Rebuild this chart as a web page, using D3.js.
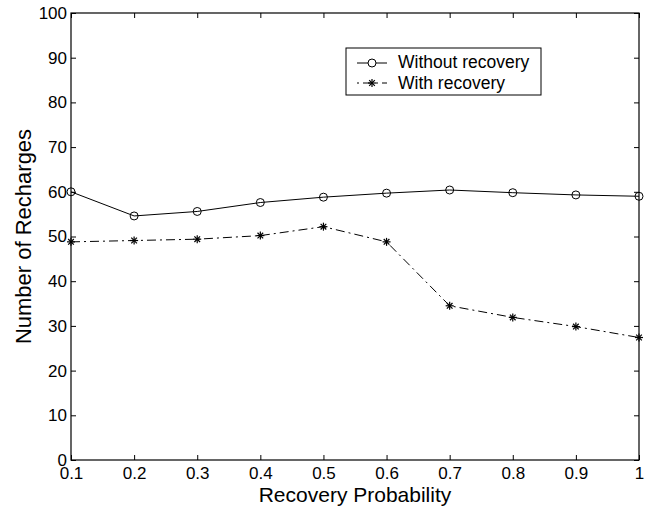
<!DOCTYPE html>
<html>
<head>
  <meta charset="utf-8">
  <title>Number of Recharges</title>
  <script src="https://d3js.org/d3.v7.min.js"></script>
  <style>
    html, body { margin: 0; background: #fff; }
    svg text { font-family: 'Liberation Sans', Arial, sans-serif; fill: #000; }
  </style>
</head>
<body>
  <svg id="chart" width="651" height="508"></svg>
  <script>
  // data
  const probs = [0.1, 0.2, 0.3, 0.4, 0.5, 0.6, 0.7, 0.8, 0.9, 1.0];
  const withoutRecovery = [60.0, 54.6, 55.6, 57.6, 58.8, 59.7, 60.4, 59.8, 59.3, 59.0];
  const withRecovery = [48.8, 49.1, 49.4, 50.2, 52.2, 48.8, 34.5, 31.9, 29.85, 27.4];
  const xTicks = [0.1, 0.2, 0.3, 0.4, 0.5, 0.6, 0.7, 0.8, 0.9, 1];
  const yTicks = [0, 10, 20, 30, 40, 50, 60, 70, 80, 90, 100];

  const svg = d3.select("#chart");
  const plotLeft = 71, plotRight = 639, plotTop = 13, plotBottom = 460;

  const x = d3.scaleLinear().domain([0.1, 1]).range([plotLeft, plotRight]);
  const y = d3.scaleLinear().domain([0, 100]).range([plotBottom, plotTop]);
  const tickLen = 5;

  // bottom axis (ticks inward)
  const xAxis = svg.append("g")
    .attr("transform", `translate(0,${plotBottom})`)
    .call(d3.axisBottom(x).tickValues(xTicks).tickSizeInner(-tickLen).tickSizeOuter(0)
      .tickPadding(7).tickFormat(d => d === 1 ? "1" : d3.format(".1f")(d)));
  xAxis.selectAll("text").attr("font-size", 17).attr("dy", "0.71em");

  // left axis
  const yAxis = svg.append("g")
    .attr("transform", `translate(${plotLeft},0)`)
    .call(d3.axisLeft(y).tickValues(yTicks).tickSizeInner(-tickLen).tickSizeOuter(0)
      .tickPadding(4));
  yAxis.selectAll("text").attr("font-size", 17);

  // top and right ticks, no labels
  svg.append("g")
    .attr("transform", `translate(0,${plotTop})`)
    .call(d3.axisTop(x).tickValues(xTicks).tickSizeInner(-tickLen).tickSizeOuter(0).tickFormat(""));
  svg.append("g")
    .attr("transform", `translate(${plotRight},0)`)
    .call(d3.axisRight(y).tickValues(yTicks).tickSizeInner(-tickLen).tickSizeOuter(0).tickFormat(""));

  svg.selectAll(".domain").remove();
  svg.selectAll(".tick line").attr("stroke", "#000");

  svg.append("rect")
    .attr("x", plotLeft).attr("y", plotTop)
    .attr("width", plotRight - plotLeft).attr("height", plotBottom - plotTop)
    .attr("fill", "none").attr("stroke", "#000").attr("stroke-width", 1.2);

  const line = d3.line().x(d => x(d[0])).y(d => y(d[1]));

  svg.append("path")
    .datum(probs.map((p, i) => [p, withoutRecovery[i]]))
    .attr("d", line)
    .attr("fill", "none").attr("stroke", "#000").attr("stroke-width", 1);

  svg.append("path")
    .datum(probs.map((p, i) => [p, withRecovery[i]]))
    .attr("d", line)
    .attr("fill", "none").attr("stroke", "#000").attr("stroke-width", 1)
    .attr("stroke-dasharray", "9,4,2,4");

  function star(g, cx, cy, r) {
    for (let k = 0; k < 4; k++) {
      const a = k * Math.PI / 4;
      g.append("line")
        .attr("x1", cx - r * Math.cos(a)).attr("y1", cy - r * Math.sin(a))
        .attr("x2", cx + r * Math.cos(a)).attr("y2", cy + r * Math.sin(a))
        .attr("stroke", "#000").attr("stroke-width", 1.2);
    }
  }

  svg.append("g").selectAll("circle")
    .data(probs.map((p, i) => [p, withoutRecovery[i]]))
    .join("circle")
    .attr("cx", d => x(d[0])).attr("cy", d => y(d[1]))
    .attr("r", 4).attr("fill", "none").attr("stroke", "#000").attr("stroke-width", 1);

  const stars = svg.append("g");
  probs.forEach((p, i) => star(stars, x(p), y(withRecovery[i]), 4));

  // legend
  const lg = svg.append("g");
  lg.append("rect")
    .attr("x", 346).attr("y", 48).attr("width", 195).attr("height", 47)
    .attr("fill", "#fff").attr("stroke", "#000").attr("stroke-width", 1);
  lg.append("line").attr("x1", 357).attr("x2", 387).attr("y1", 63).attr("y2", 63)
    .attr("stroke", "#000");
  lg.append("circle").attr("cx", 372).attr("cy", 63).attr("r", 4)
    .attr("fill", "#fff").attr("stroke", "#000");
  lg.append("text").attr("x", 398).attr("y", 68)
    .attr("font-size", 17.5).text("Without recovery");
  lg.append("line").attr("x1", 357).attr("x2", 387).attr("y1", 83).attr("y2", 83)
    .attr("stroke", "#000").attr("stroke-dasharray", "2,4,9,4");
  star(lg, 372, 83, 4);
  lg.append("text").attr("x", 398).attr("y", 89)
    .attr("font-size", 17.5).text("With recovery");

  // axis titles
  svg.append("text")
    .attr("x", (plotLeft + plotRight) / 2).attr("y", 502)
    .attr("text-anchor", "middle").attr("font-size", 21)
    .text("Recovery Probability");
  svg.append("text")
    .attr("transform", `translate(31,${(plotTop + plotBottom) / 2}) rotate(-90)`)
    .attr("text-anchor", "middle").attr("font-size", 22)
    .text("Number of Recharges");
  </script>
</body>
</html>
